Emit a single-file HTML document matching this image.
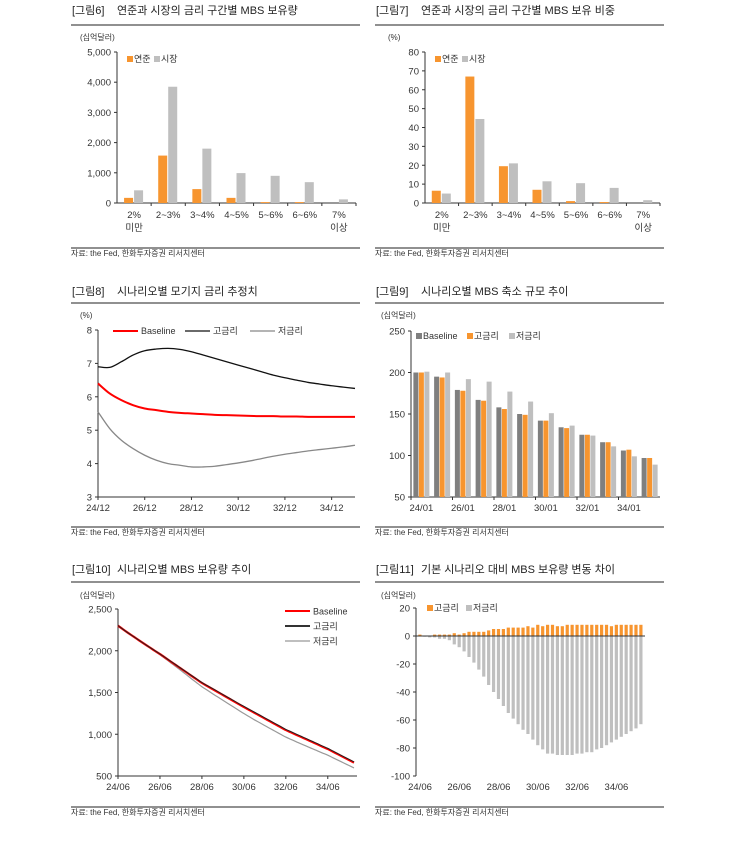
<!DOCTYPE html>
<html><head><meta charset="utf-8">
<style>
html,body{margin:0;padding:0;background:#fff;}
svg{display:block;font-family:"Liberation Sans","Noto Sans CJK KR",sans-serif;}
</style></head>
<body>
<svg id="s" width="753" height="842" viewBox="0 0 753 842"></svg>
<script>
// ---- Fig 6 / 7 data
const cats = ["2%|미만","2~3%","3~4%","4~5%","5~6%","6~6%","7%|이상"];
const fedAmt = [170,1570,460,170,30,30,0];
const mktAmt = [420,3850,1800,990,900,690,120];
const amtTicks = [0,1000,2000,3000,4000,5000];
const fedPct = [6.5,67,19.5,7,1,0.5,0];
const mktPct = [5,44.5,21,11.5,10.5,8,1.5];
const pctTicks = [0,10,20,30,40,50,60,70,80];
// ---- Fig 8 data (semiannual 24/12 .. 35/12)
const rateBase = [6.4,6.1,5.9,5.75,5.65,5.6,5.55,5.52,5.5,5.48,5.46,5.45,5.44,5.43,5.42,5.42,5.41,5.41,5.4,5.4,5.4,5.4,5.4];
const rateHigh = [6.9,6.88,7.05,7.25,7.38,7.43,7.45,7.42,7.35,7.25,7.15,7.05,6.95,6.85,6.75,6.65,6.57,6.5,6.43,6.38,6.33,6.29,6.25];
const rateLow = [5.55,5.05,4.7,4.45,4.25,4.1,4.0,3.95,3.9,3.9,3.92,3.97,4.02,4.08,4.15,4.22,4.28,4.33,4.38,4.42,4.46,4.5,4.55];
const rateTicks = [3,4,5,6,7,8];
const rateXLabels = ["24/12","26/12","28/12","30/12","32/12","34/12"];
// ---- Fig 9 data
const runYears = ["24/01","25/01","26/01","27/01","28/01","29/01","30/01","31/01","32/01","33/01","34/01","35/01"];
const runBase = [200,195,179,167,158,150,142,134,125,116,106,97];
const runHigh = [200,194,178,166,156,149,142,133,125,116,107,97];
const runLow = [201,200,192,189,177,165,151,136,124,111,99,89];
const runTicks = [50,100,150,200,250];
// ---- Fig 10 / 11 data (quarterly 24/06 .. 35/09)
const holdBase = [2300,2255,2210,2168,2125,2083,2042,2000,1960,1917,1873,1830,1787,1744,1700,1657,1614,1578,1542,1506,1470,1434,1398,1362,1326,1292,1257,1223,1188,1154,1119,1085,1050,1022,993,965,937,908,880,851,823,790,758,725,693,660];
const diffHigh = [1,0,0,1,1,1,1,2,1,2,3,3,3,3,4,5,5,5,6,6,6,6,7,6,8,7,8,8,7,7,8,8,8,8,8,8,8,8,8,7,8,8,8,8,8,8];
const diffLow = [0,-0.5,-1,-1,-2,-2,-3,-6,-8,-11,-15,-19,-24,-29,-35,-40,-45,-50,-55,-59,-63,-67,-70,-74,-78,-81,-84,-84,-85,-85,-85,-85,-84,-84,-83,-83,-81,-80,-78,-76,-74,-72,-70,-68,-66,-63];
const holdTicks = [500,1000,1500,2000,2500];
const diffTicks = [-100,-80,-60,-40,-20,0,20];
const qLabels = ["24/06","26/06","28/06","30/06","32/06","34/06"];

const NS="http://www.w3.org/2000/svg";
const svg=document.getElementById('s');
const OR="#F7952F", GR="#BFBFBF", DG="#7F7F7F";
function el(tag,attrs,parent){const e=document.createElementNS(NS,tag);for(const k in attrs)e.setAttribute(k,attrs[k]);(parent||svg).appendChild(e);return e;}
function txt(x,y,s,size,anchor,fill,parent){const t=el('text',{x:x,y:y,'font-size':size,'text-anchor':anchor||'start',fill:fill||'#333'},parent);t.textContent=s;return t;}
function lin(a,b,c,d){return v=>c+(v-a)*(d-c)/(b-a);}
function smooth(pts){let d="M"+pts[0][0]+","+pts[0][1];for(let i=0;i<pts.length-1;i++){const p0=pts[Math.max(i-1,0)],p1=pts[i],p2=pts[i+1],p3=pts[Math.min(i+2,pts.length-1)];d+=" C"+(p1[0]+(p2[0]-p0[0])/6)+","+(p1[1]+(p2[1]-p0[1])/6)+" "+(p2[0]-(p3[0]-p1[0])/6)+","+(p2[1]-(p3[1]-p1[1])/6)+" "+p2[0]+","+p2[1];}return d;}

function frame(x0,x1,ty,num,title,ry,sy){
  const g=el('g',{});
  
  
  const n=txt(x0+1,ty,num,11,'start','#222',g);
  
  
  const t=txt(x0+46,ty,title,11,'start','#222',g);
  
  
  el('line',{x1:x0,x2:x1,y1:ry,y2:ry,stroke:'#222','stroke-width':1},g);
  el('line',{x1:x0,x2:x1,y1:sy-8,y2:sy-8,stroke:'#222','stroke-width':1},g);
  const s=txt(x0,sy,"자료: the Fed, 한화투자증권 리서치센터",8,'start','#333',g);
  
  
  return g;
}
function yAxis(g,x,ticks,y,fmt){
  el('line',{x1:x,x2:x,y1:y(ticks[ticks.length-1]),y2:y(ticks[0]),stroke:'#333'},g);
  ticks.forEach(v=>{
    el('line',{x1:x-3,x2:x,y1:y(v),y2:y(v),stroke:'#333'},g);
    const t=txt(x-6,y(v)+3.5,fmt(v),9.5,'end','#333',g);
    
    
  });
}
const comma=v=>v.toLocaleString('en-US');

// ===== Fig 6 & 7
function catChart(x0,x1,num,title,unit,ticks,fed,mkt,axX,top,bot,axEnd){
  const g=frame(x0,x1,14,num,title,25,256);
  const y=lin(ticks[0],ticks[ticks.length-1],bot,top);
  txt(axX-37,40,unit,8,'start','#333',g);
  yAxis(g,axX,ticks,y,unit==="(%)"?(v=>v):comma);
  const gw=(axEnd-axX)/cats.length;
  el('line',{x1:axX,x2:axEnd,y1:bot,y2:bot,stroke:'#333'},g);
  cats.forEach((c,i)=>{
    const cx=axX+gw*(i+0.5);
    const bf=el('rect',{x:cx-10,y:y(fed[i]),width:9,height:bot-y(fed[i]),fill:OR},g);
    
    
    const bm=el('rect',{x:cx,y:y(mkt[i]),width:9,height:bot-y(mkt[i]),fill:GR},g);
    
    
    el('line',{x1:axX+gw*(i+1),x2:axX+gw*(i+1),y1:bot,y2:bot+3,stroke:'#333'},g);
    const parts=c.split('|');
    parts.forEach((p,j)=>{const t=txt(cx,bot+15+j*13,p,9.5,'middle','#333',g);
      
      });
  });
  const l1=el('rect',{x:axX+10,y:top+4,width:6,height:6,fill:OR},g);
  
  
  txt(axX+17,top+10,"연준",9,'start','#333',g);
  const l2=el('rect',{x:axX+37,y:top+4,width:6,height:6,fill:GR},g);
  
  
  txt(axX+44,top+10,"시장",9,'start','#333',g);
}
catChart(71,360,"[그림6]","연준과 시장의 금리 구간별 MBS 보유량","(십억달러)",amtTicks,fedAmt,mktAmt,117,52,203,356);
catChart(375,664,"[그림7]","연준과 시장의 금리 구간별 MBS 보유 비중","(%)",pctTicks,fedPct,mktPct,425,52,203,660);

// ===== Fig 8
(function(){
  const g=frame(71,360,295,"[그림8]","시나리오별 모기지 금리 추정치",303,535);
  const y=lin(3,8,497,330);
  const x=i=>98+i*(355-98)/22;
  txt(80,318,"(%)",8,'start','#333',g);
  yAxis(g,98,rateTicks,y,v=>v);
  el('line',{x1:98,x2:355,y1:497,y2:497,stroke:'#333'},g);
  rateXLabels.forEach((l,i)=>{const xx=x(i*4);el('line',{x1:xx,x2:xx,y1:497,y2:500,stroke:'#333'},g);
    const t=txt(xx,511,l,9.5,'middle','#333',g);
    
    });
  [[rateHigh,'#111',1.3,'line-high-rate'],[rateLow,'#888',1.3,'line-low-rate'],[rateBase,'#FF0000',2,'line-baseline']].forEach(s=>{
    const p=el('path',{d:smooth(s[0].map((v,i)=>[x(i),y(v)])),fill:'none',stroke:s[1],'stroke-width':s[2]},g);
    
    
  });
  [[113,'#FF0000',2,"Baseline"],[185,'#111',1.3,"고금리"],[250,'#888',1.3,"저금리"]].forEach(l=>{
    el('line',{x1:l[0],x2:l[0]+25,y1:331,y2:331,stroke:l[1],'stroke-width':l[2]},g);
    const t=txt(l[0]+28,334,l[3],9,'start','#333',g);
    
    
  });
})();

// ===== Fig 9
(function(){
  const g=frame(375,664,295,"[그림9]","시나리오별 MBS 축소 규모 추이",303,535);
  const y=lin(50,250,497,331);
  const gw=(660-411)/12;
  txt(381,318,"(십억달러)",8,'start','#333',g);
  yAxis(g,411,runTicks,y,v=>v);
  el('line',{x1:411,x2:660,y1:497,y2:497,stroke:'#333'},g);
  runYears.forEach((yr,i)=>{
    const cx=411+gw*(i+0.5);
    [[runBase,DG,-8],[runHigh,OR,-2.5],[runLow,GR,3]].forEach(s=>{
      const r=el('rect',{x:cx+s[2],y:y(s[0][i]),width:5,height:497-y(s[0][i]),fill:s[1]},g);
      
      
    });
    if(i%2===0){el('line',{x1:411+gw*i,x2:411+gw*i,y1:497,y2:500,stroke:'#333'},g);
      const t=txt(cx,511,yr,9.5,'middle','#333',g);
      
      }
  });
  [[416,DG,"Baseline"],[467,OR,"고금리"],[509,GR,"저금리"]].forEach(l=>{
    el('rect',{x:l[0],y:333,width:6,height:6,fill:l[1]},g);
    const t=txt(l[0]+7,339,l[2],9,'start','#333',g);
    
    
  });
})();

// ===== Fig 10
(function(){
  const g=frame(71,360,573,"[그림10]","시나리오별 MBS 보유량 추이",582,815);
  const y=lin(500,2500,776,609);
  const x=i=>118+i*(354-118)/45;
  txt(80,598,"(십억달러)",8,'start','#333',g);
  yAxis(g,118,holdTicks,y,comma);
  el('line',{x1:118,x2:357,y1:776,y2:776,stroke:'#333'},g);
  qLabels.forEach((l,i)=>{const xx=x(i*8);el('line',{x1:xx,x2:xx,y1:776,y2:779,stroke:'#333'},g);
    const t=txt(xx,790,l,9.5,'middle','#333',g);
    
    });
  const high=holdBase.map((v,i)=>v+diffHigh[i]);
  const low=holdBase.map((v,i)=>v+diffLow[i]);
  [[low,'#999',1.2,'line-low-rate'],[holdBase,'#FF0000',2.2,'line-baseline'],[high,'#222',1,'line-high-rate']].forEach(s=>{
    const p=el('path',{d:smooth(s[0].map((v,i)=>[x(i),y(v)])),fill:'none',stroke:s[1],'stroke-width':s[2]},g);
    
    
  });
  [[611,'#FF0000',2,"Baseline"],[626,'#333',2,"고금리"],[641,'#999',1.3,"저금리"]].forEach(l=>{
    el('line',{x1:285,x2:310,y1:l[0],y2:l[0],stroke:l[1],'stroke-width':l[2]},g);
    const t=txt(313,l[0]+3.5,l[3],9,'start','#333',g);
    
    
  });
})();

// ===== Fig 11
(function(){
  const g=frame(375,664,573,"[그림11]","기본 시나리오 대비 MBS 보유량 변동 차이",582,815);
  const y=lin(-100,20,776,608);
  const x=i=>420+i*(641-420)/45;
  txt(381,598,"(십억달러)",8,'start','#333',g);
  yAxis(g,416,diffTicks,y,v=>v);
  diffHigh.forEach((v,i)=>{
    const r=el('rect',{x:x(i)-1.7,y:Math.min(y(v),y(0)),width:3.2,height:Math.abs(y(v)-y(0)),fill:OR},g);
    
    
  });
  diffLow.forEach((v,i)=>{
    const r=el('rect',{x:x(i)-1.7,y:y(0),width:3.2,height:Math.abs(y(v)-y(0)),fill:GR},g);
    
    
  });
  el('line',{x1:416,x2:645,y1:y(0),y2:y(0),stroke:'#333'},g);
  qLabels.forEach((l,i)=>{const t=txt(x(i*8),790,l,9.5,'middle','#333',g);
    
    });
  [[427,OR,"고금리"],[466,GR,"저금리"]].forEach(l=>{
    el('rect',{x:l[0],y:605,width:6,height:6,fill:l[1]},g);
    const t=txt(l[0]+7,611,l[2],9,'start','#333',g);
    
    
  });
})();
</script>
</body></html>
